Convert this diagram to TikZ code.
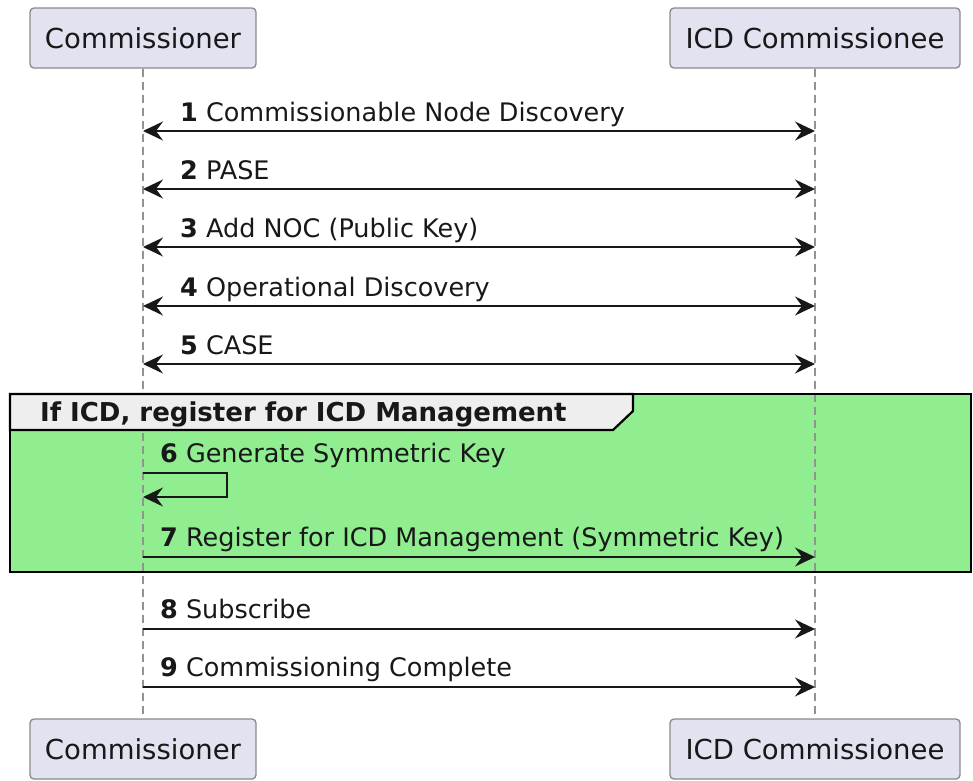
\documentclass[tikz,border=0pt]{standalone}
\usepackage{fontspec}
\setmainfont{DejaVu Sans}
\usetikzlibrary{arrows.meta}
\definecolor{partfill}{HTML}{E2E2F0}
\definecolor{partline}{HTML}{8A8A8A}
\definecolor{ink}{HTML}{181818}
\definecolor{grpfill}{HTML}{90EE90}
\definecolor{hdrfill}{HTML}{EEEEEE}
\tikzset{
  part/.style={draw=partline, line width=1.3pt, fill=partfill, rounded corners=4pt,
    minimum height=60pt, inner sep=0pt, text=ink, font=\fontsize{27.5}{32}\selectfont},
  life/.style={draw=gray!85, line width=1.2pt, dash pattern=on 8pt off 5pt},
  msg/.style={draw=ink, line width=1.8pt, arrows={-Stealth[length=20pt,width=19pt,inset=7pt]}},
  bmsg/.style={draw=ink, line width=1.8pt, arrows={Stealth[length=20pt,width=19pt,inset=7pt]-Stealth[length=20pt,width=19pt,inset=7pt]}},
  lbl/.style={anchor=base west, inner sep=0pt, text=ink, font=\fontsize{25.5}{30}\selectfont},
}
\begin{document}
\begin{tikzpicture}[x=1pt,y=-1pt]
\useasboundingbox (0,0) rectangle (973,780);
% group frame fill
\fill[grpfill] (10,394) rectangle (971,572);
% participants
\node[part, minimum width=226pt] (ct) at (143,38) {Commissioner};
\node[part, minimum width=290pt] (it) at (815,38) {ICD Commissionee};
\node[part, minimum width=226pt] (cb) at (143,749) {Commissioner};
\node[part, minimum width=290pt] (ib) at (815,749) {ICD Commissionee};
% lifelines
\draw[life] (ct.south) -- (cb.north);
\draw[life] (it.south) -- (ib.north);
% group frame outline and header
\draw[line width=2.2pt] (10,394) rectangle (971,572);
\draw[line width=2.2pt, fill=hdrfill] (10,394) -- (633,394) -- (633,411) -- (613,430) -- (10,430) -- cycle;
\node[anchor=base west, inner sep=0pt, text=ink, font=\fontsize{26}{30}\selectfont\bfseries] (gl) at (40,421) {If ICD, register for ICD Management};
% message points
\foreach \n/\y in {1/131,2/189,3/247,4/306,5/364,7/557,8/629,9/687}{
  \coordinate (c\n) at (143,\y);
  \coordinate (i\n) at (815,\y);
}
\draw[bmsg] (c1) -- (i1);
\draw[bmsg] (c2) -- (i2);
\draw[bmsg] (c3) -- (i3);
\draw[bmsg] (c4) -- (i4);
\draw[bmsg] (c5) -- (i5);
\node[lbl] (l1) at (180,121) {\textbf{1} Commissionable Node Discovery};
\node[lbl] (l2) at (180,179) {\textbf{2} PASE};
\node[lbl] (l3) at (180,237) {\textbf{3} Add NOC (Public Key)};
\node[lbl] (l4) at (180,296) {\textbf{4} Operational Discovery};
\node[lbl] (l5) at (180,354) {\textbf{5} CASE};
% self message
\coordinate (s1) at (143,473);
\coordinate (s2) at (227,473);
\coordinate (s3) at (227,497);
\coordinate (s4) at (143,497);
\draw[msg, line width=1.6pt] (s1) -- (s2) -- (s3) -- (s4);
\node[lbl] (l6) at (160,462) {\textbf{6} Generate Symmetric Key};
\draw[msg] (c7) -- (i7);
\node[lbl] (l7) at (160,546) {\textbf{7} Register for ICD Management (Symmetric Key)};
\draw[msg] (c8) -- (i8);
\node[lbl] (l8) at (160,618) {\textbf{8} Subscribe};
\draw[msg] (c9) -- (i9);
\node[lbl] (l9) at (160,676) {\textbf{9} Commissioning Complete};
\end{tikzpicture}
\end{document}
